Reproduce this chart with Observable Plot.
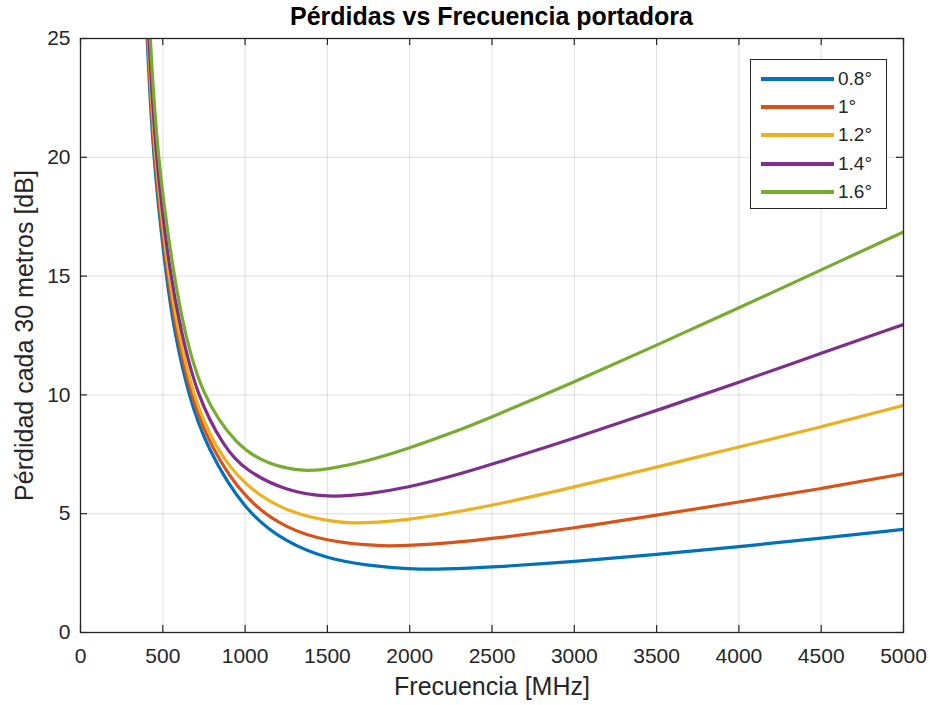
<!DOCTYPE html>
<html><head><meta charset="utf-8">
<script src="https://cdn.jsdelivr.net/npm/d3@7"></script>
<script src="https://cdn.jsdelivr.net/npm/@observablehq/plot@0.6"></script>
<style>
body{margin:0;background:#fff;font-family:"Liberation Sans",Arial,sans-serif;}
#wrap{position:relative;width:930px;height:705px;}
#title{position:absolute;left:80px;width:823px;top:1px;text-align:center;font-weight:bold;font-size:25px;line-height:30px;color:#000;}
#legend{position:absolute;left:750px;top:59px;width:137px;height:150px;border:1.3px solid #262626;background:#fff;box-sizing:border-box;}
.row{position:absolute;left:10px;height:28px;display:flex;align-items:center;font-size:19px;color:#262626;}
.sw{width:73px;height:4px;margin-right:4px;}
</style></head>
<body>
<div id="wrap">
  <div id="chart"></div>
  <div id="title"></div>
  <div id="legend"></div>
</div>
<script>
const titleText = "Pérdidas vs Frecuencia portadora";
const xLabel = "Frecuencia [MHz]";
const yLabel = "Pérdidad cada 30 metros [dB]";
const xTicks = [0,500,1000,1500,2000,2500,3000,3500,4000,4500,5000];
const yTicks = [0,5,10,15,20,25];
const seriesNames = ["0.8°","1°","1.2°","1.4°","1.6°"];
const seriesColors = ["#0072BD","#D95319","#EDB120","#7E2F8E","#77AC30"];

const f08 = [405,440,520,568,655,765,1000,1250,1500,1750,2000,2200,2500,3000,3500,4000,4500,5000];
const v08 = [25,20,15,12.72,10,7.8,5.08,3.78,3.10,2.81,2.67,2.66,2.75,2.98,3.28,3.61,3.97,4.34];

const f10 = [408,445,528,580,668,790,1000,1250,1500,1750,1866,2000,2250,2500,3000,3500,4000,4500,5000];
const v10 = [25,20,15,12.72,10,7.8,5.58,4.36,3.85,3.67,3.64,3.66,3.77,3.95,4.39,4.94,5.49,6.05,6.68];

const f12 = [412,450,535,593,682,814,1000,1250,1500,1650,1800,2000,2200,2500,3000,3500,4000,4500,5000];
const v12 = [25,20,15,12.72,10,7.8,6.14,5.08,4.69,4.59,4.63,4.76,4.97,5.34,6.12,6.96,7.81,8.65,9.56];

const f14 = [416,456,545,610,705,871,1000,1250,1500,1750,2000,2250,2500,3000,3500,4000,4500,5000];
const v14 = [25,20,15,12.72,10,7.8,6.82,5.95,5.68,5.82,6.12,6.56,7.08,8.17,9.35,10.52,11.76,12.96];

const f16 = [424,466,567,630,735,952,1154,1367,1500,1750,2000,2250,2500,3000,3500,4000,4500,5000];
const v16 = [25,20,15,12.72,10,7.8,7.03,6.78,6.86,7.22,7.76,8.38,9.07,10.54,12.09,13.66,15.26,16.86];

const seriesF = [f08,f10,f12,f14,f16];
const seriesV = [v08,v10,v12,v14,v16];

const rows = [];
seriesNames.forEach((s,i) => {
  seriesF[i].forEach((f,j) => rows.push({s, f, v: seriesV[i][j]}));
});

const ink = "#262626";
const font = "'Liberation Sans', Arial, sans-serif";
const plotH = 705 - 38 - 73;
const plotW = 930 - 80 - 27;
const tickLen = 7;

const chart = Plot.plot({
  width: 930, height: 705,
  marginLeft: 80, marginRight: 27, marginTop: 38, marginBottom: 73,
  x: {domain: [0,5000]},
  y: {domain: [0,25]},
  color: {domain: seriesNames, range: seriesColors},
  style: {fontFamily: font, color: ink, background: "white", overflow: "visible"},
  marks: [
    Plot.gridX(xTicks, {stroke: ink, strokeOpacity: 0.15, strokeWidth: 1}),
    Plot.gridY(yTicks, {stroke: ink, strokeOpacity: 0.15, strokeWidth: 1}),
    Plot.ruleX(xTicks, {insetTop: plotH - tickLen, stroke: ink, strokeWidth: 1.2}),
    Plot.ruleX(xTicks, {insetBottom: plotH - tickLen, stroke: ink, strokeWidth: 1.2}),
    Plot.ruleY(yTicks, {insetRight: plotW - tickLen, stroke: ink, strokeWidth: 1.2}),
    Plot.ruleY(yTicks, {insetLeft: plotW - tickLen, stroke: ink, strokeWidth: 1.2}),
    Plot.axisX(xTicks, {tickSize: 0, tickPadding: 16, fontSize: 21, tickFormat: d3.format("d"), label: null, fill: ink}),
    Plot.axisY(yTicks, {tickSize: 0, tickPadding: 10, fontSize: 21, label: null, fill: ink}),
    Plot.line(rows, {x: "f", y: "v", z: "s", stroke: "s", strokeWidth: 3.2, curve: "basis", clip: true}),
    Plot.frame({stroke: ink, strokeWidth: 1.3}),
    Plot.text([xLabel], {text: d => d, frameAnchor: "bottom", dy: 62, fontSize: 25, fill: ink}),
    Plot.text([yLabel], {text: d => d, frameAnchor: "left", dx: -56, rotate: -90, textAnchor: "middle", fontSize: 25, fill: ink})
  ]
});
document.getElementById("chart").appendChild(chart);
document.getElementById("title").textContent = titleText;

const leg = document.getElementById("legend");
seriesNames.forEach((s,i) => {
  const r = document.createElement("div");
  r.className = "row";
  r.style.top = (5 + i*28.2) + "px";
  const sw = document.createElement("div");
  sw.className = "sw";
  sw.style.background = seriesColors[i];
  const t = document.createElement("span");
  t.textContent = s;
  r.appendChild(sw); r.appendChild(t);
  leg.appendChild(r);
});
</script>
</body></html>
